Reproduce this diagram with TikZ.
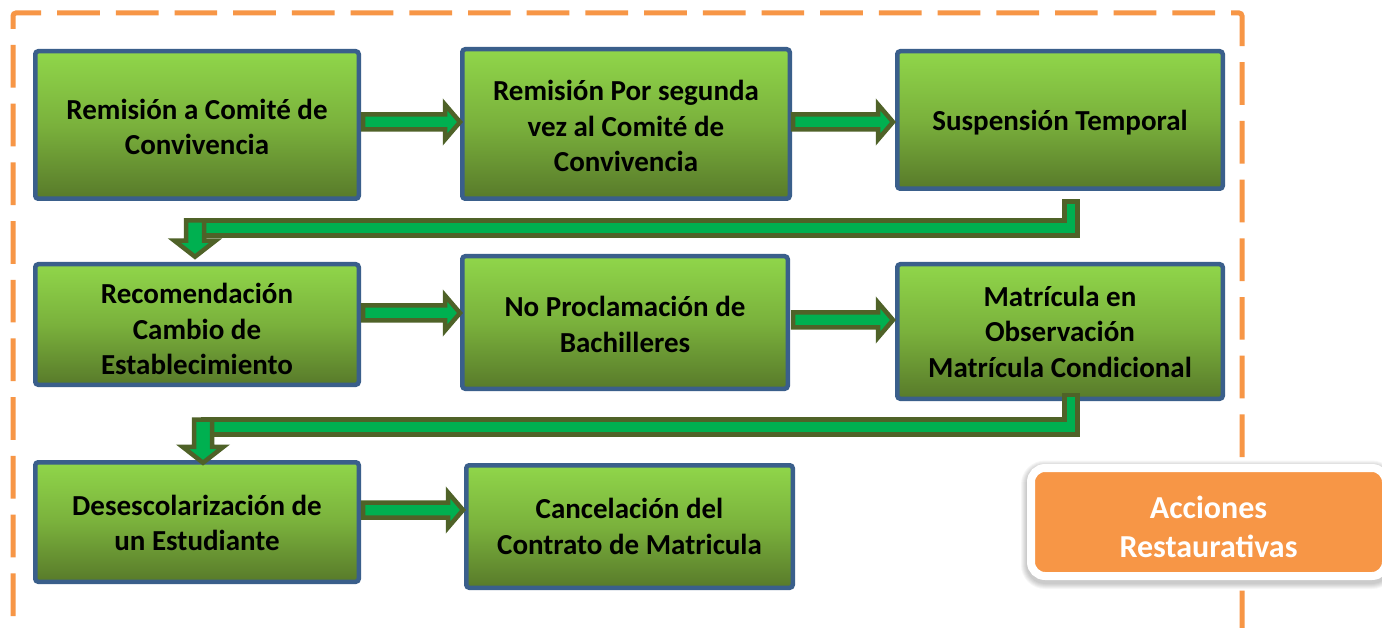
\documentclass[tikz,border=0pt]{standalone}
\usepackage{fontspec}
\setmainfont{Carlito}
\usetikzlibrary{calc}
\definecolor{boxblue}{HTML}{3A5F8B}
\definecolor{gtop}{HTML}{90D64A}
\definecolor{gmid}{HTML}{7AB13C}
\definecolor{gbot}{HTML}{587A2A}
\definecolor{arrline}{HTML}{4F6228}
\definecolor{arrfill}{HTML}{00B050}
\definecolor{orangeF}{HTML}{F79646}
\tikzset{
  stepbox/.style={draw=boxblue, line width=4.5pt, rounded corners=3pt,
    top color=gtop, bottom color=gbot, middle color=gmid, inner sep=0pt},
  steptext/.style={inner sep=0pt, align=center, text=black,
    font=\bfseries\fontsize{29}{35.5}\selectfont},
  blockarrow/.style={draw=arrline, fill=arrfill, line width=4.5pt, line join=miter},
  frameline/.style={draw=orangeF, line width=5pt, dash pattern=on 42.7pt off 16pt,
    dash phase=33.4pt, rounded corners=3pt},
  tagbox/.style={draw=white, line width=8pt, fill=orangeF, rounded corners=14pt,
    minimum width=355pt, minimum height=108pt, inner sep=0pt},
  tagtext/.style={inner sep=0pt, align=center, text=white,
    font=\bfseries\fontsize{32}{39}\selectfont},
  halo/.style={fill=black, opacity=0.035}
}
\newcommand\harrow[2]{%
  \path[blockarrow] let \p1=(#1), \p2=(#2) in
  ({\x1},{\y1+7.5pt}) -- ({\x2-15pt},{\y1+7.5pt}) -- ({\x2-15pt},{\y1+17.5pt})
  -- ({\x2},{\y1}) -- ({\x2-15pt},{\y1-17.5pt}) -- ({\x2-15pt},{\y1-7.5pt})
  -- ({\x1},{\y1-7.5pt}) -- cycle;}
\newcommand\elbowarrow[3]{%
  \path[blockarrow] let \p1=(#1), \p2=(#2), \p3=(#3) in
  ({\x1-6.5pt},{\y1}) -- ({\x1+6.5pt},{\y1}) -- ({\x1+6.5pt},{\y2-7.5pt})
  -- ({\x3},{\y2-7.5pt}) -- ({\x3},{\y2+7.5pt}) -- ({\x1-6.5pt},{\y2+7.5pt}) -- cycle;
  \path[blockarrow] let \p2=(#2), \p3=(#3) in
  ({\x3-9pt},{\y2+7.5pt}) -- ({\x3+9pt},{\y2+7.5pt}) -- ({\x3+9pt},{\y3+16pt})
  -- ({\x3+20.5pt},{\y3+16pt}) -- ({\x3},{\y3}) -- ({\x3-20.5pt},{\y3+16pt})
  -- ({\x3-9pt},{\y3+16pt}) -- cycle;}
\begin{document}
\begin{tikzpicture}[x=1pt,y=-1pt]
\useasboundingbox (0,0) rectangle (1382,628);
\clip (0,0) rectangle (1382,628);
\fill[white] (0,0) rectangle (1382,628);
% dashed frame
\path[frameline] (13,700) -- (13,13) -- (1242,13) -- (1242,700);
% boxes
\node[stepbox, minimum width=323.5pt, minimum height=147.5pt] (b1) at (197,125) {};
\node[stepbox, minimum width=327.5pt, minimum height=149.5pt] (b2) at (626,124) {};
\node[stepbox, minimum width=325.5pt, minimum height=137.5pt] (b3) at (1060,120) {};
\node[stepbox, minimum width=323.5pt, minimum height=120.5pt] (b4) at (197,324.5) {};
\node[stepbox, minimum width=325.5pt, minimum height=132.5pt] (b5) at (625,322.5) {};
\node[stepbox, minimum width=325.5pt, minimum height=134.5pt] (b6) at (1060,331.5) {};
\node[stepbox, minimum width=323.5pt, minimum height=119.5pt] (b7) at (197,522) {};
\node[stepbox, minimum width=326.5pt, minimum height=122.5pt] (b8) at (629.5,526.5) {};
% box texts
\node[steptext] (b1t) at ($(b1)+(0,2)$) {Remisión a Comité de\\Convivencia};
\node[steptext] (b2t) at ($(b2)+(0,2)$) {Remisión Por segunda\\vez al Comité de\\Convivencia};
\node[steptext] (b3t) at ($(b3)+(0,3)$) {Suspensión Temporal};
\node[steptext] (b4t) at ($(b4)+(0,4.5)$) {Recomendación\\Cambio de\\Establecimiento};
\node[steptext] (b5t) at ($(b5)+(0,2)$) {No Proclamación de\\Bachilleres};
\node[steptext] (b6t) at ($(b6)+(0,0)$) {Matrícula en\\Observación\\Matrícula Condicional};
\node[steptext] (b7t) at ($(b7)+(0,1)$) {Desescolarización de\\un Estudiante};
\node[steptext] (b8t) at ($(b8)+(0,0)$) {Cancelación del\\Contrato de Matricula};
% connector points
\coordinate (a1s) at ($(b1.east)+(2,-3)$);
\coordinate (a1e) at ($(b2.west)+(0,0)$);
\coordinate (a2s) at ($(b2.east)+(1,-2)$);
\coordinate (a2e) at ($(b3.west)+(-2,0)$);
\coordinate (a3s) at ($(b4.east)+(2,-11.5)$);
\coordinate (a3e) at ($(b5.west)+(0,0)$);
\coordinate (a4s) at ($(b5.east)+(3,-2.5)$);
\coordinate (a4e) at ($(b6.west)+(-2,0)$);
\coordinate (a5s) at ($(b7.east)+(2,-12)$);
\coordinate (a5e) at ($(b8.west)+(-1,0)$);
\coordinate (e1p) at ($(b3.south)+(11,10.75)$);
\coordinate (e1m) at ($(b3.south)!0.5!(b4.north)+(0,1.5)$);
\coordinate (e1q) at ($(b4.north)+(-2,-5.25)$);
\coordinate (e2p) at ($(b6.south)+(11,-6.25)$);
\coordinate (e2m) at ($(b6.south)!0.5!(b7.north)+(0,-3.5)$);
\coordinate (e2q) at ($(b7.north)+(6,2.75)$);
% arrows
\harrow{a1s}{a1e}
\harrow{a2s}{a2e}
\harrow{a3s}{a3e}
\harrow{a4s}{a4e}
\harrow{a5s}{a5e}
\elbowarrow{e1p}{e1m}{e1q}
\elbowarrow{e2p}{e2m}{e2q}
% tag with soft halo
\coordinate (tagc) at (1208.5,522);
\foreach \d in {1,...,6}{
  \fill[halo, rounded corners={18pt+\d pt}]
    ($(tagc)+({-181.5-\d},{-58-\d+2.5})$) rectangle ($(tagc)+({181.5+\d},{58+\d+3})$);
}
\node[tagbox] (tag) at (tagc) {};
\node[tagtext] (tagt) at ($(tag)+(0,5)$) {Acciones\\Restaurativas};
\end{tikzpicture}
\end{document}
